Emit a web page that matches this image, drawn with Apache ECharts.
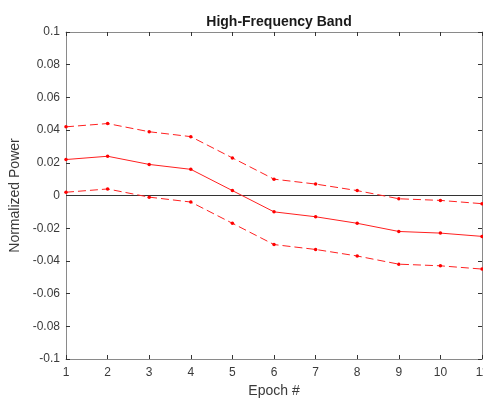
<!DOCTYPE html>
<html>
<head>
<meta charset="utf-8">
<script src="https://cdn.jsdelivr.net/npm/echarts@6/dist/echarts.min.js"></script>
<style>html,body{margin:0;padding:0;background:#fff;}#c{width:483px;height:399px;}</style>
</head>
<body>
<div id="c"></div>
<script>
var epochs = [1, 2, 3, 4, 5, 6, 7, 8, 9, 10, 11];
var meanPower = [0.022, 0.024, 0.019, 0.016, 0.003, -0.010, -0.013, -0.017, -0.022, -0.023, -0.025];
var upperPower = [0.042, 0.044, 0.039, 0.036, 0.023, 0.010, 0.007, 0.003, -0.002, -0.003, -0.005];
var lowerPower = [0.002, 0.004, -0.001, -0.004, -0.017, -0.030, -0.033, -0.037, -0.042, -0.043, -0.045];
var zeroLineX = [1, 11];
var zeroLineY = [0, 0];

function pairs(xs, ys) { return xs.map(function (x, i) { return [x, ys[i]]; }); }

var axisColor = '#8a8a8a';
var labelColor = '#3a3a3a';
var font = 'Liberation Sans, Arial, sans-serif';

var chart = echarts.init(document.getElementById('c'), null, { renderer: 'canvas' });
var redLine = function (name, ys, dashed) {
  return {
    name: name, type: 'line', data: pairs(epochs, ys),
    symbol: 'circle', symbolSize: 3.5, showSymbol: true,
    itemStyle: { color: '#ff0000' },
    lineStyle: { color: '#ff2020', width: 1, type: dashed ? [8, 4] : 'solid' },
    animation: false, z: 3
  };
};
chart.setOption({
  animation: false,
  title: {
    text: 'High-Frequency Band', left: 274, top: 10, textAlign: 'center',
    textStyle: { fontFamily: font, fontSize: 14, fontWeight: 'bold', color: '#1a1a1a' }
  },
  grid: { left: 66, right: 1, top: 32, bottom: 40, containLabel: false, outerBoundsMode: 'none' },
  xAxis: [{
    type: 'value', min: 1, max: 11, interval: 1,
    name: 'Epoch #', nameLocation: 'middle', nameGap: 23,
    nameTextStyle: { fontFamily: font, fontSize: 14, color: labelColor },
    axisLine: { show: true, onZero: false, lineStyle: { color: axisColor, width: 1 } },
    axisTick: { show: true, inside: true, length: 4, lineStyle: { color: '#333' } },
    axisLabel: { fontFamily: font, fontSize: 12, color: labelColor, margin: 8, hideOverlap: false },
    splitLine: { show: false }
  }, {
    type: 'value', min: 1, max: 11, interval: 1, position: 'top',
    axisLine: { show: true, onZero: false, lineStyle: { color: axisColor, width: 1 } },
    axisTick: { show: true, inside: true, length: 4, lineStyle: { color: '#333' } },
    axisLabel: { show: false }, splitLine: { show: false }
  }],
  yAxis: [{
    type: 'value', min: -0.1, max: 0.1, interval: 0.02,
    name: 'Normalized Power', nameLocation: 'middle', nameGap: 36,
    nameTextStyle: { fontFamily: font, fontSize: 14, color: labelColor },
    axisLine: { show: true, onZero: false, lineStyle: { color: axisColor, width: 1 } },
    axisTick: { show: true, inside: true, length: 4, lineStyle: { color: '#333' } },
    axisLabel: { fontFamily: font, fontSize: 12, color: labelColor, margin: 6,
      formatter: function (v) { var r = Math.round(v * 100) / 100; return String(r); } },
    splitLine: { show: false }
  }, {
    type: 'value', min: -0.1, max: 0.1, interval: 0.02, position: 'right',
    axisLine: { show: true, onZero: false, lineStyle: { color: axisColor, width: 1 } },
    axisTick: { show: true, inside: true, length: 4, lineStyle: { color: '#333' } },
    axisLabel: { show: false }, splitLine: { show: false }
  }],
  series: [
    {
      name: 'zero', type: 'line', data: pairs(zeroLineX, zeroLineY), symbol: 'none',
      lineStyle: { color: '#333333', width: 1 }, z: 2, silent: true
    },
    redLine('upper', upperPower, true),
    redLine('mean', meanPower, false),
    redLine('lower', lowerPower, true)
  ]
});
</script>
</body>
</html>
